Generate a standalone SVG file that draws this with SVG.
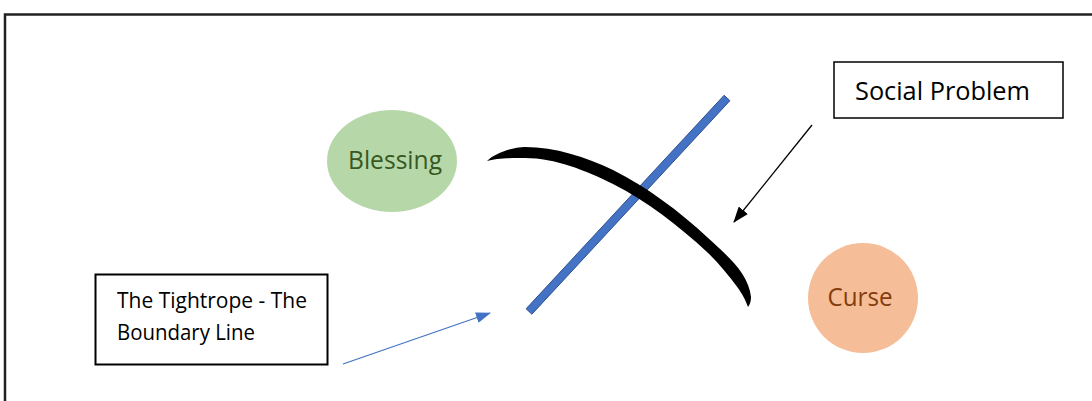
<svg xmlns="http://www.w3.org/2000/svg" width="1092" height="401" viewBox="0 0 1092 401">
<style>
.lbl{font-family:"Open Sans","Noto Sans","Liberation Sans",sans-serif;}
.box{fill:#FFFFFF;stroke:#000000;}
</style>
<defs>
<marker id="ahBlack" markerWidth="16" markerHeight="12" refX="15" refY="6" orient="auto" markerUnits="userSpaceOnUse">
<path d="M0,0 L16,6 L0,12 Z" fill="#000000"/>
</marker>
<marker id="ahBlue" markerWidth="15" markerHeight="11" refX="14" refY="5.5" orient="auto" markerUnits="userSpaceOnUse">
<path d="M0,0 L15,5.5 L0,11 Z" fill="#4472C4"/>
</marker>
</defs>
<rect width="1092" height="401" fill="#FFFFFF"/>
<rect x="5" y="14.5" width="1100" height="400" fill="none" stroke="#222222" stroke-width="2.5"/>

<g id="blessing">
<ellipse cx="392" cy="161" rx="65" ry="51" fill="#B6D7A8"/>
<text class="lbl" x="395" y="169" font-size="25" fill="#385723" text-anchor="middle" textLength="94" lengthAdjust="spacingAndGlyphs">Blessing</text>
</g>

<g id="curse">
<circle cx="863" cy="298" r="55" fill="#F6BE98"/>
<text class="lbl" x="860" y="306" font-size="25" fill="#843C0C" text-anchor="middle" textLength="65" lengthAdjust="spacingAndGlyphs">Curse</text>
</g>

<g id="tightrope">
<polygon points="526.1,308.8 724.1,95.3 729.9,100.7 531.9,314.2" fill="#4472C4" stroke="#2F528F" stroke-width="1"/>
</g>

<g id="social-problem-curve">
<path d="M487,161 C495,153 513,147 525,147 C555,147 586,157 613,170 C647,187 679,211 707,237 C725,254 748.5,272 751,297 Q751,303 748,307 C746,301 741.6,292.8 738,288 C728.4,275.2 718.7,262.9 707,252 C679.3,226.2 647,201 613,184 C586,170.6 555,158 525,158 C512,158 495,158 487,161 Z" fill="#000000"/>
</g>

<g id="social-problem-label">
<rect class="box" x="834" y="62" width="229" height="56" stroke-width="1.5"/>
<text class="lbl" x="855" y="100" font-size="25" fill="#000000" textLength="175" lengthAdjust="spacingAndGlyphs">Social Problem</text>
</g>

<g id="tightrope-label">
<rect class="box" x="95.5" y="274.5" width="232" height="90" stroke-width="2"/>
<text class="lbl" font-size="21" fill="#000000">
<tspan x="117" y="308" textLength="190" lengthAdjust="spacingAndGlyphs">The Tightrope - The</tspan>
<tspan x="117" y="340" textLength="138" lengthAdjust="spacingAndGlyphs">Boundary Line</tspan>
</text>
</g>

<g id="connectors">
<line x1="812" y1="125" x2="734" y2="222" stroke="#000000" stroke-width="1.3" marker-end="url(#ahBlack)"/>
<line x1="343" y1="364" x2="490" y2="313" stroke="#4472C4" stroke-width="1.3" marker-end="url(#ahBlue)"/>
</g>
</svg>
